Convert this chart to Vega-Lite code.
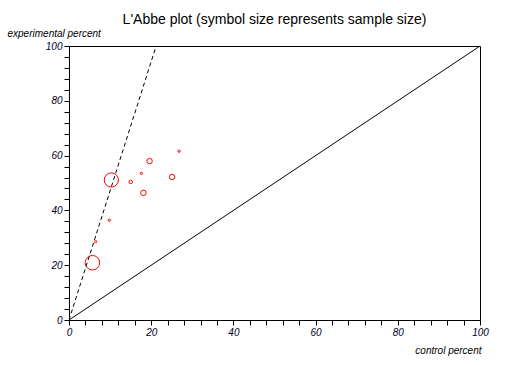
{
  "$schema": "https://vega.github.io/schema/vega-lite/v6.json",
  "width": 411,
  "height": 274,
  "autosize": {"type": "none"},
  "padding": {"left": 69, "top": 46, "right": 37, "bottom": 45},
  "background": "white",
  "title": {
    "text": "L'Abbe plot (symbol size represents sample size)",
    "font": "Liberation Sans",
    "fontSize": 14,
    "fontWeight": "normal",
    "color": "#000000",
    "anchor": "middle",
    "offset": 1
  },
  "config": {
    "view": {"stroke": "black", "strokeWidth": 1},
    "axis": {
      "grid": false,
      "domainColor": "black",
      "tickColor": "black",
      "tickSize": 5,
      "tickCount": 30,
      "labelOverlap": false,
      "labelFont": "Liberation Sans",
      "labelFontStyle": "italic",
      "labelFontSize": 10,
      "labelColor": "#000022",
      "titleFont": "Liberation Sans",
      "titleFontStyle": "italic",
      "titleFontWeight": "normal",
      "titleFontSize": 10,
      "titleColor": "#000000"
    }
  },
  "datasets": {
    "studies": [
      {"control": 5.7, "experimental": 20.9, "n": 250},
      {"control": 10.3, "experimental": 51.1, "n": 240},
      {"control": 6.5, "experimental": 28.6, "n": 6},
      {"control": 9.8, "experimental": 36.4, "n": 6},
      {"control": 15.0, "experimental": 50.4, "n": 15},
      {"control": 17.6, "experimental": 53.5, "n": 6},
      {"control": 18.1, "experimental": 46.4, "n": 35},
      {"control": 19.6, "experimental": 58.0, "n": 35},
      {"control": 25.1, "experimental": 52.2, "n": 35},
      {"control": 26.8, "experimental": 61.6, "n": 6}
    ],
    "lines": [
      {"line": "equality", "control": 0, "experimental": 0},
      {"line": "equality", "control": 100, "experimental": 100},
      {"line": "pooled", "control": 0, "experimental": 0},
      {"line": "pooled", "control": 21.2, "experimental": 100}
    ]
  },
  "layer": [
    {
      "data": {"name": "lines"},
      "transform": [{"filter": "datum.line == 'equality'"}],
      "mark": {"type": "line", "color": "black", "strokeWidth": 1, "clip": true},
      "encoding": {
        "x": {
          "field": "control", "type": "quantitative",
          "scale": {"domain": [0, 100], "nice": false},
          "axis": {
            "values": [0,4,8,12,16,20,24,28,32,36,40,44,48,52,56,60,64,68,72,76,80,84,88,92,96,100],
            "labelExpr": "datum.value % 20 == 0 ? datum.label : ''",
            "labelFlush": false,
            "labelPadding": 2,
            "title": "control percent",
            "titleAnchor": "end",
            "titleAlign": "right",
            "titleX": 412,
            "titleY": 33,
            "titleBaseline": "alphabetic"
          }
        },
        "y": {
          "field": "experimental", "type": "quantitative",
          "scale": {"domain": [0, 100], "nice": false},
          "axis": {
            "values": [0,4,8,12,16,20,24,28,32,36,40,44,48,52,56,60,64,68,72,76,80,84,88,92,96,100],
            "labelExpr": "datum.value % 20 == 0 ? datum.label : ''",
            "labelFlush": false,
            "labelPadding": 2,
            "title": "experimental percent",
            "titleAngle": 0,
            "titleAlign": "left",
            "titleX": -62,
            "titleY": -10,
            "titleBaseline": "alphabetic"
          }
        }
      }
    },
    {
      "data": {"name": "lines"},
      "transform": [{"filter": "datum.line == 'pooled'"}],
      "mark": {"type": "line", "color": "black", "strokeWidth": 1, "strokeDash": [4, 3], "clip": true},
      "encoding": {
        "x": {"field": "control", "type": "quantitative"},
        "y": {"field": "experimental", "type": "quantitative"}
      }
    },
    {
      "data": {"name": "studies"},
      "mark": {"type": "point", "shape": "circle", "filled": false, "color": "#ff0000", "strokeWidth": 1, "opacity": 1},
      "encoding": {
        "x": {"field": "control", "type": "quantitative"},
        "y": {"field": "experimental", "type": "quantitative"},
        "size": {
          "field": "n", "type": "quantitative",
          "scale": {"domain": [0, 250], "range": [0, 210], "zero": true},
          "legend": null
        }
      }
    }
  ]
}
